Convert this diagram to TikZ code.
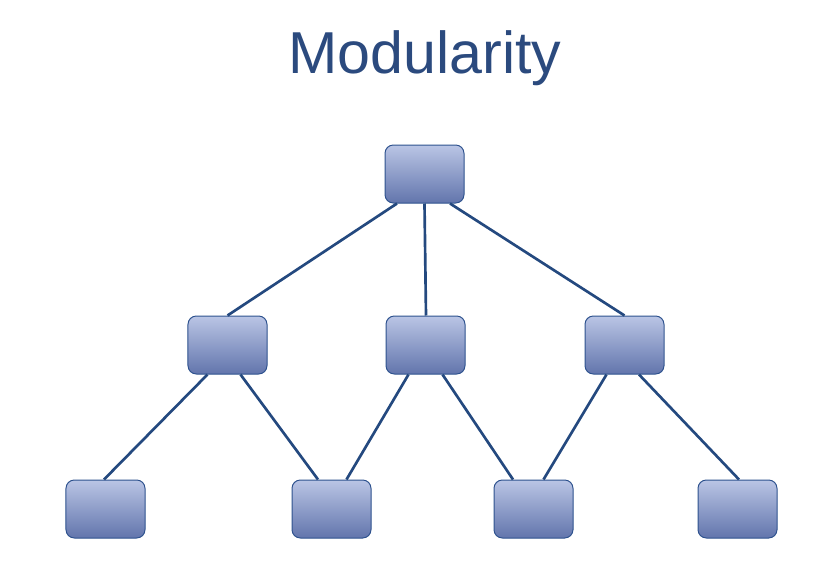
\documentclass[tikz,border=0pt]{standalone}
\usepackage{fontspec}
\setmainfont{Liberation Sans}
\usepackage{xcolor}
\usetikzlibrary{calc}

\definecolor{titleblue}{HTML}{2B4A7E}
\definecolor{linkblue}{HTML}{24497F}
\definecolor{boxedge}{HTML}{2E528E}
\definecolor{boxtop}{HTML}{BAC5E5}
\definecolor{boxbottom}{HTML}{6275AC}

\tikzset{
  module/.style={draw=boxedge, line width=0.03cm, rounded corners=0.25cm,
    top color=boxtop, bottom color=boxbottom,
    minimum width=2.37cm, minimum height=1.74cm, inner sep=0pt},
  link/.style={draw=linkblue, line width=0.08cm}
}

\begin{document}
\begin{tikzpicture}[x=0.03cm, y=-0.03cm]
    \useasboundingbox (0,0) rectangle (828,586);

    % Title
    \node[titleblue, font=\fontsize{50.5}{60}\selectfont, anchor=base] (title) at (425,73) {Modularity};

    % Modules
    \node[module] (top) at (424.5,174) {};
    \node[module] (m1) at (227.5,345) {};
    \node[module] (m2) at (425.5,345) {};
    \node[module] (m3) at (624.5,345) {};
    \node[module] (b1) at (105.5,509) {};
    \node[module] (b2) at (331.5,509) {};
    \node[module] (b3) at (533.5,509) {};
    \node[module] (b4) at (737.5,509) {};

    % Links
    \draw[link] ($(top.south)+(-27.5,0)$) -- (m1.north);
    \draw[link] (top.south) -- ($(m2.north)+(0.5,0)$);
    \draw[link] ($(top.south)+(25.5,0)$) -- (m3.north);
    \draw[link] ($(m1.south)+(-20,0)$) -- ($(b1.north)+(-1.5,0)$);
    \draw[link] ($(m1.south)+(13,0)$) -- ($(b2.north)+(-13.5,0)$);
    \draw[link] ($(m2.south)+(-17,0)$) -- ($(b2.north)+(15,0)$);
    \draw[link] ($(m2.south)+(17,0)$) -- ($(b3.north)+(-20.5,0)$);
    \draw[link] ($(m3.south)+(-18,0)$) -- ($(b3.north)+(10,0)$);
    \draw[link] ($(m3.south)+(14.5,0)$) -- ($(b4.north)+(1.5,0)$);
\end{tikzpicture}
\end{document}
